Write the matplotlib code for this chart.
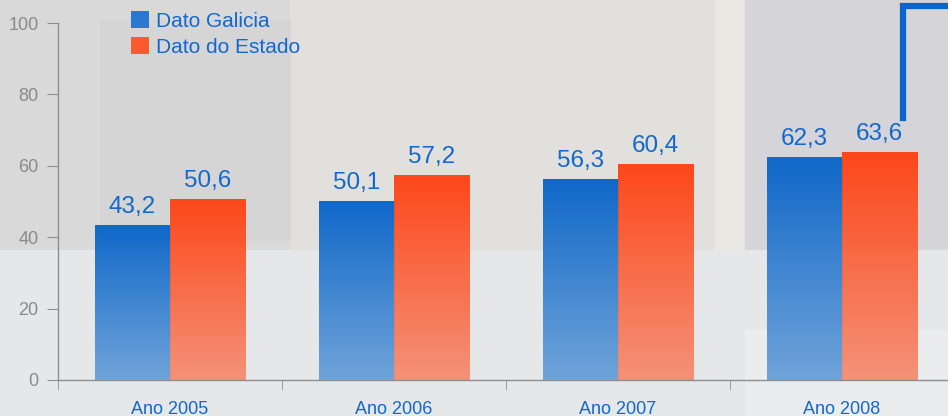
import numpy as np
import matplotlib
matplotlib.use("Agg")
import matplotlib.pyplot as plt
from matplotlib.colors import LinearSegmentedColormap
from matplotlib.patches import Patch, Rectangle
from matplotlib.lines import Line2D

plt.rcParams['font.family'] = ['Liberation Sans', 'DejaVu Sans']

# Data
years = ["Ano 2005", "Ano 2006", "Ano 2007", "Ano 2008"]
galicia = [43.2, 50.1, 56.3, 62.3]
estado = [50.6, 57.2, 60.4, 63.6]
series_names = ["Dato Galicia", "Dato do Estado"]

W, H = 948, 416
fig = plt.figure(figsize=(W / 100, H / 100), dpi=100)

# Background resembling the photo behind the chart (pixel boxes: x, y_top, w, h, color)
fig.patch.set_facecolor("#e2e3e4")
bg_boxes = [
    (0, 0, 948, 250, "#d9d9d9"),
    (290, 0, 440, 250, "#e1e0dd"),
    (715, 0, 30, 330, "#e9e8e3"),
    (745, 0, 203, 335, "#d5d5d9"),
    (0, 250, 948, 166, "#e5e7e9"),
    (745, 330, 203, 86, "#eaecee"),
    (100, 20, 190, 220, "#d5d5d5"),
]
for x, y, w, h, c in bg_boxes:
    fig.patches.append(Rectangle((x / W, 1 - (y + h) / H), w / W, h / H,
                                 transform=fig.transFigure, color=c, zorder=-10))

# decorative blue bracket from the backdrop
fig.lines.append(Line2D([903 / W, 903 / W, 1.0], [1 - 118 / H, 1 - 6 / H, 1 - 6 / H],
                        transform=fig.transFigure, color="#0866cc", lw=4.5,
                        solid_joinstyle="miter"))

ax = fig.add_axes([58 / W, 36 / H, (W - 58) / W, 357 / H])
ax.patch.set_alpha(0)

blue_cmap = LinearSegmentedColormap.from_list("b", ["#6aa0d8", "#0562c8"])
red_cmap = LinearSegmentedColormap.from_list("r", ["#f58d72", "#ff4010"])
grad = np.linspace(0, 1, 256).reshape(-1, 1)

x = np.arange(len(years))
bw = 0.335
label_color = "#1268cc"

for vals, offset, cmap in [(galicia, -bw / 2, blue_cmap), (estado, bw / 2, red_cmap)]:
    for xi, v in zip(x, vals):
        x0 = xi + offset - bw / 2
        ax.imshow(grad, extent=[x0, x0 + bw, 0, v], origin="lower", aspect="auto",
                  cmap=cmap, alpha=0.95, zorder=2, interpolation="bilinear")
        ax.annotate(f"{v:.1f}".replace(".", ","), (xi + offset, v),
                    xytext=(0, 9), textcoords="offset points",
                    ha="center", va="baseline", fontsize=17.5, color=label_color)

ax.set_xlim(-0.5, -0.5 + (W - 58) / 224)
ax.set_ylim(0, 100)

ax.set_xticks(x)
ax.set_xticklabels(years, fontsize=13, color=label_color)
ax.set_xticks([-0.5, 0.5, 1.5, 2.5], minor=True)
ax.tick_params(axis="x", which="major", length=0, pad=15)
ax.tick_params(axis="x", which="minor", length=7, color="#8e8e8e", direction="out")

ax.set_yticks([0, 20, 40, 60, 80, 100])
ax.tick_params(axis="y", length=8, color="#8e8e8e", labelcolor="#8a8a8a",
               labelsize=13, pad=6)

for s in ["top", "right"]:
    ax.spines[s].set_visible(False)
for s in ["left", "bottom"]:
    ax.spines[s].set_color("#8e8e8e")
    ax.spines[s].set_linewidth(1.0)

handles = [Patch(facecolor="#2a78d0"), Patch(facecolor="#fa5a2c")]
fig.legend(handles, series_names, loc="upper left",
           bbox_to_anchor=(131 / W, 1 - 11 / H), frameon=False,
           fontsize=15, labelcolor=label_color, handlelength=0.85,
           handleheight=0.85, handletextpad=0.35, labelspacing=0.32,
           borderpad=0, borderaxespad=0)

fig.savefig("out.png", dpi=100, facecolor=fig.get_facecolor())
